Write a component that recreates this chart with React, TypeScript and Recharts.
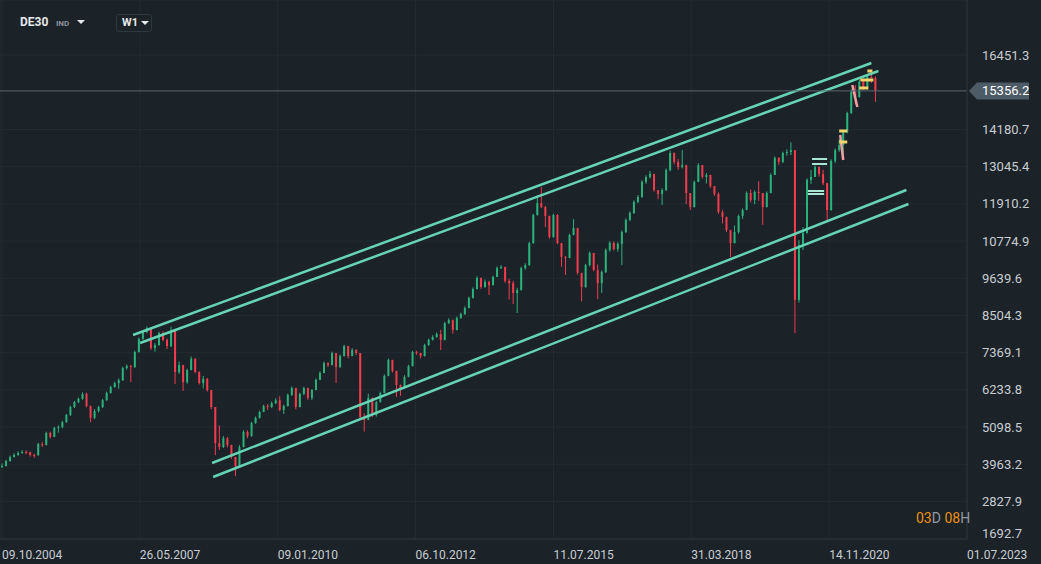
import { ComposedChart, Bar, XAxis, YAxis, CartesianGrid, ReferenceLine } from 'recharts'

// DE30 weekly, sampled every 4 weeks (week 0 = 09.10.2004)
const closes = [
  3910, 4060, 4185, 4250, 4310, 4340, 4330, 4250, 4240, 4580,
  4550, 4920, 4800, 5070, 5100, 5250, 5470, 5710, 5860, 5960,
  6110, 5740, 5380, 5590, 5710, 5920, 6140, 6320, 6440, 6530,
  6900, 6960, 6930, 7390, 7790, 8000, 8120, 7510, 7600, 7970,
  7760, 7570, 8060, 6780, 6990, 6470, 6840, 7180, 6780, 6440,
  6570, 6230, 5710, 4610, 4490, 4760, 4550, 4190, 3910, 4490,
  4950, 4830, 5220, 5380, 5560, 5740, 5710, 5830, 5920, 5620,
  5740, 6080, 6290, 5710, 6110, 6290, 5990, 6230, 6540, 6750,
  7050, 6990, 7360, 6930, 7270, 7570, 7270, 7450, 7360, 5410,
  5320, 5990, 5470, 5860, 6140, 6660, 7150, 6810, 6380, 6290,
  6630, 6960, 7390, 7360, 7270, 7600, 7760, 7850, 7940, 7760,
  8270, 8360, 8060, 8430, 8550, 8730, 9040, 9310, 9650, 9370,
  9530, 9430, 9680, 9950, 9980, 9560, 9490, 9190, 9280, 9950,
  10040, 10710, 11570, 11930, 11810, 11540, 10900, 11570, 10710, 10290,
  10260, 10960, 11170, 9800, 9370, 10040, 10410, 9890, 9490, 9830,
  10500, 10720, 10530, 10690, 11050, 11420, 11630, 11970, 12120, 12580,
  12730, 12820, 12330, 12210, 12330, 12940, 13460, 13190, 13030, 13090,
  12240, 11810, 12580, 13090, 12730, 12790, 12450, 12210, 11660, 11510,
  11110, 10710, 11050, 11540, 11720, 12240, 12030, 12270, 12240, 11810,
  12240, 12790, 13310, 13190, 13460, 13490, 13550, 8980, 10650, 11020,
  12640, 12730, 13030, 12820, 12540, 11720, 13220, 13550, 13700, 14100,
  14680, 15320, 15170, 15630, 15470, 15780, 15750, 15356.2,
]
const highs = [
  3990, 4100, 4230, 4300, 4360, 4400, 4390, 4350, 4290, 4620,
  4640, 4960, 4960, 5110, 5150, 5290, 5500, 5750, 5900, 6000,
  6160, 6150, 5760, 5650, 5750, 5960, 6180, 6360, 6480, 6580,
  6940, 7010, 7000, 7430, 7830, 8040, 8170, 8100, 7660, 8010,
  8020, 7800, 8160, 8050, 7100, 7000, 6880, 7250, 7200, 6800,
  6660, 6600, 6230, 5710, 5150, 4830, 4800, 4560, 4190, 4550,
  5000, 5000, 5260, 5420, 5600, 5780, 5800, 5880, 5980, 6040,
  5780, 6120, 6340, 6300, 6150, 6330, 6300, 6260, 6580, 6800,
  7100, 7080, 7400, 7360, 7310, 7610, 7580, 7510, 7480, 7360,
  5520, 6120, 6000, 5900, 6180, 6710, 7190, 7130, 6820, 6400,
  6680, 7000, 7430, 7430, 7370, 7640, 7800, 7900, 7990, 8070,
  8310, 8420, 8380, 8470, 8590, 8780, 9080, 9360, 9700, 9660,
  9600, 9560, 9720, 10000, 10040, 9990, 9620, 9560, 9350, 9990,
  10100, 10750, 11610, 12180, 12420, 11850, 11550, 11610, 11600, 10720,
  10320, 11000, 11440, 11180, 9810, 10080, 10460, 10410, 10060, 9880,
  10550, 10770, 10760, 10740, 11100, 11470, 11680, 12020, 12180, 12630,
  12780, 12910, 12830, 12330, 12380, 12990, 13530, 13480, 13280, 13550,
  13100, 12230, 12620, 13150, 13100, 12850, 12800, 12450, 12260, 11720,
  11520, 11120, 11250, 11580, 11770, 12290, 12350, 12320, 12600, 12030,
  12290, 12840, 13360, 13340, 13500, 13570, 13790, 13550, 10800, 11200,
  12690, 12940, 13080, 13050, 12950, 12550, 13270, 13600, 13880, 14140,
  14720, 15400, 15530, 15690, 15720, 15830, 15990, 15800,
]
const lows = [
  3850, 3900, 4050, 4170, 4220, 4280, 4270, 4200, 4160, 4230,
  4490, 4540, 4750, 4790, 4930, 5060, 5230, 5440, 5680, 5830,
  5930, 5700, 5250, 5340, 5540, 5680, 5900, 6120, 6300, 6270,
  6510, 6850, 6470, 6900, 7370, 7760, 7960, 7450, 7400, 7580,
  7720, 7480, 7540, 6410, 6720, 6200, 6420, 6830, 6740, 6400,
  6280, 6180, 5650, 4240, 4400, 4460, 4480, 4130, 3600, 3880,
  4480, 4760, 4800, 5200, 5360, 5550, 5620, 5680, 5800, 5580,
  5500, 5730, 6050, 5640, 5700, 6070, 5930, 5920, 6220, 6530,
  6740, 6930, 6980, 6440, 6900, 7250, 7200, 7260, 7300, 5350,
  4960, 5310, 5400, 5420, 5850, 6130, 6650, 6760, 6020, 6050,
  6280, 6620, 6950, 7300, 7200, 7250, 7580, 7740, 7820, 7450,
  7740, 8240, 7950, 8050, 8400, 8520, 8720, 9020, 9300, 9320,
  9350, 9130, 9420, 9680, 9920, 9500, 8990, 8850, 8580, 9260,
  9900, 10020, 10700, 11550, 11780, 11200, 10850, 10870, 10680, 9990,
  9740, 10250, 10950, 9750, 8940, 9350, 10000, 9850, 9000, 9190,
  9800, 10450, 10480, 10450, 10040, 11020, 11380, 11600, 11930, 12090,
  12520, 12680, 12280, 12050, 11870, 12300, 12900, 13120, 12950, 12990,
  11900, 11720, 11800, 12570, 12680, 12530, 12400, 12150, 11600, 11310,
  11050, 10290, 10800, 11000, 11450, 11720, 11960, 11900, 12000, 11270,
  11800, 12230, 12790, 13100, 13150, 13380, 13400, 7970, 8900, 10500,
  11000, 12520, 12750, 12740, 12480, 11420, 11700, 13150, 13500, 13400,
  14060, 14650, 14950, 15150, 15380, 15400, 15600, 15020,
]
const firstOpen = 3880
const WEEKS_PER_CANDLE = 4

const tickWeeks = [0, 137, 274, 411, 548, 685, 822, 959]
const tickDates = ['09.10.2004', '26.05.2007', '09.01.2010', '06.10.2012', '11.07.2015', '31.03.2018', '14.11.2020', '01.07.2023']
const priceTicks = [1692.7, 2827.9, 3963.2, 5098.5, 6233.8, 7369.1, 8504.3, 9639.6, 10774.9, 11910.2, 13045.4, 14180.7, 16451.3]
const lastPrice = 15356.2

// trend channels: [week, price] endpoints
const channels = [
  [[130.2, 7908], [864, 16207]],
  [[137.2, 7664], [871, 15963]],
  [[208.8, 4003], [898.8, 12332]],
  [[209.8, 3576], [900.8, 11905]],
]
// order markers drawn on the chart
const tealMarks = [
  [[805, 13278], [820, 13278]],
  [[805, 13126], [820, 13126]],
  [[801, 12302], [817, 12302]],
  [[801, 12210], [817, 12210]],
]
const yellowMarks = [
  [[832, 14133], [840, 14133]],
  [[832, 13797], [840, 13797]],
  [[853, 15689], [866, 15689]],
  [[852, 15445], [861, 15445]],
  [[860, 15963], [865, 15963]],
]
const pinkMarks = [
  [[833, 14011], [836, 13248]],
  [[845, 15536], [850, 14865]],
]

const BG = '#1b2228'
const GRID = '#232c33'
const GREEN = '#2bb27b'
const RED = '#f23c4e'
const CHANNEL = '#66d4b4'
const TEXT = '#c8cdd2'
const FONT = 'Roboto, sans-serif'

const candles = closes.map((c, i) => {
  const o = i === 0 ? firstOpen : closes[i - 1]
  const hi = Math.max(highs[i], o, c)
  const lo = Math.min(lows[i], o, c)
  return { w: i * WEEKS_PER_CANDLE, o, c, hi, lo, range: [lo, hi] }
})

function Candle(props: any) {
  const { x, y, width, height, payload } = props
  if (!payload) return null
  const { o, c, hi, lo } = payload
  const top = Math.min(y, y + height)
  const h = Math.abs(height)
  const cx = x + width / 2
  const k = h / (hi - lo || 1)
  const yO = top + (hi - o) * k
  const yC = top + (hi - c) * k
  const color = c >= o ? GREEN : RED
  return (
    <g>
      <line x1={cx} x2={cx} y1={top} y2={top + h} stroke={color} strokeWidth={1} />
      <rect x={cx - 1} y={Math.min(yO, yC)} width={2} height={Math.max(1, Math.abs(yC - yO))} fill={color} />
    </g>
  )
}

function DateTick({ x, y, payload }: any) {
  const idx = tickWeeks.indexOf(payload.value)
  return (
    <text x={x} y={y} dy={12} fill={TEXT} fontSize={12} fontFamily={FONT} textAnchor="start">
      {tickDates[idx] ?? ''}
    </text>
  )
}

function PriceTick({ y, payload }: any) {
  return (
    <text x={982} y={Math.min(y, 533)} dy={4.5} fill={TEXT} fontSize={13} fontFamily={FONT}>
      {payload.value.toFixed(1)}
    </text>
  )
}

function PriceTag({ viewBox }: any) {
  if (!viewBox) return null
  const y = viewBox.y
  const x0 = viewBox.x + viewBox.width + 2
  return (
    <g>
      <path d={`M${x0} ${y} L${x0 + 8} ${y - 8.5} L${x0 + 60} ${y - 8.5} L${x0 + 60} ${y + 8.5} L${x0 + 8} ${y + 8.5} Z`} fill="#4d5b66" />
      <text x={x0 + 13} y={y} dy={4.5} fill="#ffffff" fontSize={13} fontFamily={FONT}>{lastPrice.toFixed(1)}</text>
    </g>
  )
}

function Caret({ left, top }: { left: number; top: number }) {
  return (
    <div style={{
      position: 'absolute', left, top, width: 0, height: 0,
      borderLeft: '4px solid transparent', borderRight: '4px solid transparent', borderTop: '4px solid #e6e9ec',
    }} />
  )
}

export default function App() {
  return (
    <div style={{ position: 'fixed', left: 0, top: 0, width: 1041, height: 564, background: BG, fontFamily: FONT, overflow: 'hidden' }}>
      <ComposedChart width={1041} height={564} data={candles} margin={{ top: 0, right: 0, left: 0, bottom: 0 }}>
        <CartesianGrid stroke={GRID} strokeWidth={1} />
        <XAxis
          type="number" dataKey="w" domain={[-2, 959]} ticks={tickWeeks} height={25} interval={0}
          tick={<DateTick />} tickLine={false} axisLine={{ stroke: '#2a343b' }} allowDataOverflow
        />
        <YAxis
          orientation="right" type="number" domain={[1684.5, 18129.4]} ticks={priceTicks} width={74} interval={0}
          tick={<PriceTick />} tickLine={false} axisLine={{ stroke: '#2a343b' }} allowDataOverflow
        />
        <Bar dataKey="range" shape={<Candle />} barSize={2} isAnimationActive={false} />
        {channels.map((s, i) => (
          <ReferenceLine key={'ch' + i} segment={[{ x: s[0][0], y: s[0][1] }, { x: s[1][0], y: s[1][1] }]} stroke={CHANNEL} strokeWidth={2.5} />
        ))}
        {tealMarks.map((s, i) => (
          <ReferenceLine key={'tm' + i} segment={[{ x: s[0][0], y: s[0][1] }, { x: s[1][0], y: s[1][1] }]} stroke="#a6e6d3" strokeWidth={2} />
        ))}
        {pinkMarks.map((s, i) => (
          <ReferenceLine key={'pm' + i} segment={[{ x: s[0][0], y: s[0][1] }, { x: s[1][0], y: s[1][1] }]} stroke="#f0a0a4" strokeWidth={2.5} />
        ))}
        {yellowMarks.map((s, i) => (
          <ReferenceLine key={'ym' + i} segment={[{ x: s[0][0], y: s[0][1] }, { x: s[1][0], y: s[1][1] }]} stroke="#f3d46a" strokeWidth={3} />
        ))}
        <ReferenceLine y={lastPrice} stroke="#5a6770" strokeWidth={1} label={<PriceTag />} />
      </ComposedChart>

      <div style={{ position: 'absolute', left: 20, top: 15, fontSize: 12, fontWeight: 700, color: '#e6e9ec' }}>DE30</div>
      <div style={{ position: 'absolute', left: 56, top: 19, fontSize: 8, fontWeight: 700, color: '#8a949c' }}>IND</div>
      <Caret left={77} top={20} />
      <div style={{
        position: 'absolute', left: 116, top: 14, width: 36, height: 18, boxSizing: 'border-box',
        border: '1px solid #2e3840', borderRadius: 3, background: BG,
      }} />
      <div style={{ position: 'absolute', left: 122, top: 16, fontSize: 11, fontWeight: 700, color: '#e6e9ec' }}>W1</div>
      <Caret left={141} top={21} />

      <div style={{ position: 'absolute', left: 916, top: 510, fontSize: 14, color: '#8f99a3', whiteSpace: 'nowrap' }}>
        <span style={{ color: '#f0900a' }}>03</span>D <span style={{ color: '#f0900a' }}>08</span>H
      </div>
    </div>
  )
}
